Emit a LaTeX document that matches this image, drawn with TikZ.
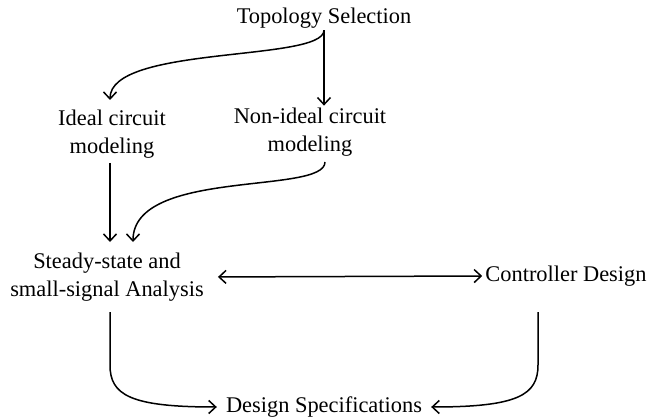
\documentclass[tikz,border=0pt]{standalone}
\usepackage{fontspec}
\setmainfont{Liberation Serif}
\usetikzlibrary{arrows.meta}
\begin{document}
\begin{tikzpicture}[x=1pt,y=-1pt,
  lbl/.style={align=center,inner sep=2pt,font=\fontsize{22.4}{28}\selectfont},
  tip/.style={Straight Barb[length=7pt,width=13pt,line width=1.5pt]},
  conn/.style={line width=1.5pt,-{Straight Barb[length=7pt,width=13pt,line width=1.5pt]}},
  biconn/.style={line width=1.5pt,{Straight Barb[length=7pt,width=13pt,line width=1.5pt]}-{Straight Barb[length=7pt,width=13pt,line width=1.5pt]}}]
\useasboundingbox (0,0) rectangle (649,420);
\node[lbl] (topo) at (324,18) {Topology Selection};
\node[lbl] (ideal) at (112,134) {Ideal circuit\\modeling};
\node[lbl] (nonideal) at (310,132) {Non-ideal circuit\\modeling};
\node[lbl] (steady) at (107,277) {Steady-state and\\small-signal Analysis};
\node[lbl] (ctrl) at (566,276) {Controller Design};
\node[lbl] (spec) at (324,407) {Design Specifications};
% connectors
\draw[conn] (topo.south) .. controls (323,62) and (110,45) .. (110,100);
\draw[conn] (topo.south) -- (topo.south |- nonideal.north);
\draw[conn] (110,163) -- (110,242);
\draw[conn] (325,162) .. controls (325,195) and (133,168) .. (133,242);
\draw[biconn,shorten <=12pt,shorten >=1pt] (steady.east) -- (ctrl.west);
\draw[conn,shorten >=7pt] (110,312) -- (110,365) .. controls (110,395) and (130,407) .. (spec.west);
\draw[conn,shorten >=7pt] (538,312) -- (538,365) .. controls (538,395) and (518,407) .. (spec.east);
\end{tikzpicture}
\end{document}
